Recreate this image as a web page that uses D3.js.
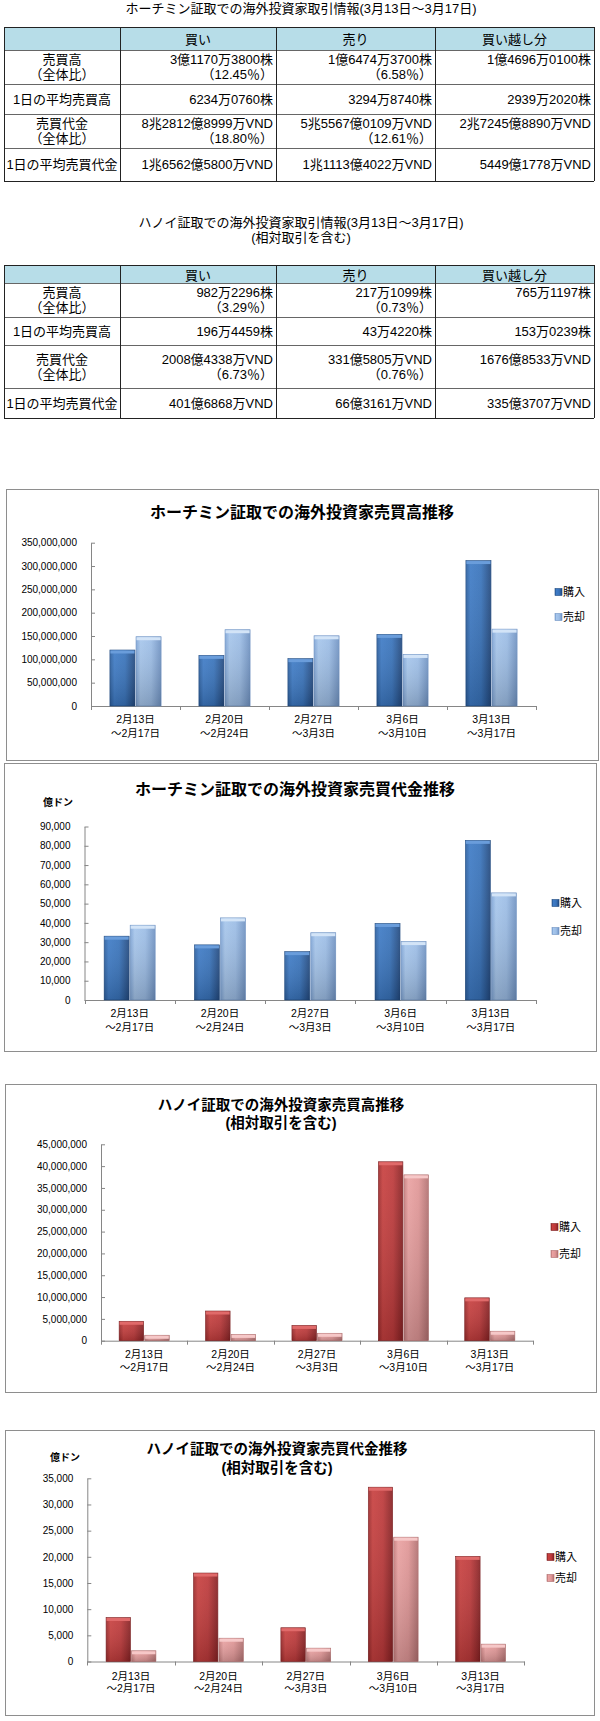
<!DOCTYPE html>
<html>
<meta charset="utf-8">
<head>
<script src="https://d3js.org/d3.v7.min.js"></script>
<style>
  body { margin: 0; background: #fff; }
  text { font-family: "Liberation Sans", "Noto Sans CJK JP", sans-serif; fill: #000; }
</style>
</head>
<body>
<script>

// ---- data ----
var colHeads = ["買い", "売り", "買い越し分"];
var rowHeads = [["売買高", "（全体比）"], ["1日の平均売買高"], ["売買代金", "（全体比）"], ["1日の平均売買代金"]];

var hcmTable = [
  [["3億1170万3800株", "（12.45％）"], ["1億6474万3700株", "（6.58％）"], ["1億4696万0100株"]],
  [["6234万0760株"], ["3294万8740株"], ["2939万2020株"]],
  [["8兆2812億8999万VND", "（18.80％）"], ["5兆5567億0109万VND", "（12.61％）"], ["2兆7245億8890万VND"]],
  [["1兆6562億5800万VND"], ["1兆1113億4022万VND"], ["5449億1778万VND"]]
];
var hnTable = [
  [["982万2296株", "（3.29％）"], ["217万1099株", "（0.73％）"], ["765万1197株"]],
  [["196万4459株"], ["43万4220株"], ["153万0239株"]],
  [["2008億4338万VND", "（6.73％）"], ["331億5805万VND", "（0.76％）"], ["1676億8533万VND"]],
  [["401億6868万VND"], ["66億3161万VND"], ["335億3707万VND"]]
];

var categories = ["2月13日～2月17日", "2月20日～2月24日", "2月27日～3月3日", "3月6日～3月10日", "3月13日～3月17日"];
var series = ["購入", "売却"];

// ホーチミン 売買高 (株)
var hcmVolBuy  = [120000000, 108500000, 101500000, 153500000, 311703800];
var hcmVolSell = [148500000, 163500000, 150500000, 110500000, 164743700];
// ホーチミン 売買代金 (億ドン)
var hcmValBuy  = [33100, 28600, 25100, 39700, 82812];
var hcmValSell = [38800, 42600, 34900, 30300, 55567];
// ハノイ 売買高 (株)
var hnVolBuy  = [4450000, 6800000, 3500000, 41000000, 9822296];
var hnVolSell = [1250000, 1450000, 1700000, 38000000, 2171099];
// ハノイ 売買代金 (億ドン)
var hnValBuy  = [8400, 16900, 6450, 33300, 20084];
var hnValSell = [2050, 4450, 2550, 23750, 3316];

var width = 600, height = 1721;

var svg = d3.select("body").append("svg")
    .attr("width", width)
    .attr("height", height);

var defs = svg.append("defs");

function hGrad(id, cols) {
  var gr = defs.append("linearGradient").attr("id", id)
      .attr("x1", "0").attr("y1", "0").attr("x2", "1").attr("y2", "0");
  [0, 0.18, 0.6, 1].forEach(function(o, i) {
    gr.append("stop").attr("offset", o).attr("stop-color", cols[i]);
  });
}
hGrad("g-bbuy",  ["#2b5f9f", "#3e7bc6", "#3873bb", "#22497f"]);
hGrad("g-bsell", ["#7ea4d6", "#a6c6ec", "#9cbde6", "#7093c3"]);
hGrad("g-rbuy",  ["#9c2a2b", "#c8403f", "#bd393a", "#872123"]);
hGrad("g-rsell", ["#c47c7c", "#eaa2a2", "#e09696", "#b27171"]);

var shade = defs.append("linearGradient").attr("id", "g-shade")
    .attr("x1", "0").attr("y1", "0").attr("x2", "0").attr("y2", "1");
shade.append("stop").attr("offset", 0).attr("stop-color", "#fff").attr("stop-opacity", 0.08);
shade.append("stop").attr("offset", 1).attr("stop-color", "#000").attr("stop-opacity", 0.18);

var palettes = {
  blue: { fill: ["url(#g-bbuy)", "url(#g-bsell)"], cap: ["#6a9ddb", "#d3e4f7"], edge: ["#1f4a80", "#6d91c2"] },
  red:  { fill: ["url(#g-rbuy)", "url(#g-rsell)"], cap: ["#e06a6a", "#f6c8c8"], edge: ["#7c1f21", "#ad6c6c"] }
};

// ---- tables ----
function drawTable(title, titleY, cols, rows, data) {
  var g = svg.append("g");
  g.selectAll(".tt").data(title).enter().append("text")
      .attr("x", 301).attr("y", function(d, i) { return titleY[i]; })
      .attr("text-anchor", "middle").attr("dominant-baseline", "central")
      .style("font-size", "13px")
      .text(function(d) { return d; });

  g.append("rect")
      .attr("x", cols[0]).attr("y", rows[0])
      .attr("width", cols[4] - cols[0]).attr("height", rows[1] - rows[0])
      .attr("fill", "#b7dde8");

  g.selectAll(".hl").data(rows).enter().append("line")
      .attr("x1", cols[0]).attr("x2", cols[4])
      .attr("y1", function(d) { return d + 0.5; }).attr("y2", function(d) { return d + 0.5; })
      .attr("stroke", function(d, i) { return (i == 0 || i == rows.length - 1) ? "#222" : "#666"; });
  g.selectAll(".vl").data(cols).enter().append("line")
      .attr("y1", rows[0]).attr("y2", rows[rows.length - 1])
      .attr("x1", function(d) { return d + 0.5; }).attr("x2", function(d) { return d + 0.5; })
      .attr("stroke", "#222");

  colHeads.forEach(function(h, c) {
    g.append("text")
        .attr("x", (cols[c + 1] + cols[c + 2]) / 2).attr("y", (rows[0] + rows[1]) / 2 + 1)
        .attr("text-anchor", "middle").attr("dominant-baseline", "central")
        .style("font-size", "13px").text(h);
  });

  var lh = 15;
  rowHeads.forEach(function(lines, r) {
    var n = lines.length;
    var cy = (rows[r + 1] + rows[r + 2]) / 2;
    var lineY = function(i) { return cy + (i - (n - 1) / 2) * lh; };
    lines.forEach(function(t, i) {
      g.append("text").attr("x", (cols[0] + cols[1]) / 2).attr("y", lineY(i))
          .attr("text-anchor", "middle").attr("dominant-baseline", "central")
          .style("font-size", "13px").text(t);
    });
    data[r].forEach(function(cell, c) {
      cell.forEach(function(t, i) {
        g.append("text").attr("x", cols[c + 2] - 3).attr("y", lineY(i))
            .attr("text-anchor", "end").attr("dominant-baseline", "central")
            .style("font-size", "13px").text(t);
      });
    });
  });
}

drawTable(["ホーチミン証取での海外投資家取引情報(3月13日～3月17日)"], [8],
    [4, 120, 276, 435, 594], [27, 50, 84, 114, 148, 181], hcmTable);
drawTable(["ハノイ証取での海外投資家取引情報(3月13日～3月17日)", "(相対取引を含む)"], [222, 237],
    [4, 120, 276, 435, 594], [265, 283, 317, 345, 388, 418], hnTable);

// ---- charts ----
function drawChart(cfg, buy, sell) {
  var g = svg.append("g");
  var pal = palettes[cfg.color];

  g.append("rect")
      .attr("x", cfg.box[0] + 0.5).attr("y", cfg.box[1] + 0.5)
      .attr("width", cfg.box[2]).attr("height", cfg.box[3])
      .attr("fill", "#fff").attr("stroke", "#8e8e8e");

  g.selectAll(".title").data(cfg.title).enter().append("text")
      .attr("x", cfg.titleX).attr("y", function(d, i) { return cfg.titleY[i]; })
      .attr("text-anchor", "middle").attr("dominant-baseline", "central")
      .style("font-size", cfg.titleSize + "px").style("font-weight", "bold")
      .text(function(d) { return d; });

  if (cfg.unit) {
    g.append("text").attr("x", cfg.unit[0]).attr("y", cfg.unit[1])
        .attr("text-anchor", "middle").attr("dominant-baseline", "central")
        .style("font-size", "10px").style("font-weight", "bold")
        .text("億ドン");
  }

  var x0 = d3.scaleBand().domain(categories).range([cfg.x0, cfg.x1]);
  var gw = x0.bandwidth() * cfg.frac;
  var x1 = d3.scaleBand().domain(series)
      .range([(x0.bandwidth() - gw) / 2, (x0.bandwidth() + gw) / 2])
      .paddingInner(0.04);
  var y = d3.scaleLinear().domain([0, cfg.yMax]).range([cfg.yBottom, cfg.yTop]);

  var yAxis = g.append("g")
      .attr("transform", "translate(" + cfg.x0 + ",0)")
      .call(d3.axisLeft(y)
          .tickValues(d3.range(0, cfg.yMax + 1, cfg.step))
          .tickSize(-4).tickSizeOuter(0).tickPadding(14)
          .tickFormat(d3.format(",")));
  yAxis.select(".domain").attr("stroke", "#868686");
  yAxis.selectAll(".tick line").attr("stroke", "#868686");
  yAxis.selectAll(".tick text")
      .style("font-family", "'Liberation Sans', Arial, sans-serif")
      .style("font-size", "10px").attr("fill", "#111");

  var xAxis = g.append("g")
      .attr("transform", "translate(0," + cfg.yBottom + ")")
      .call(d3.axisBottom(x0).tickSize(0).tickSizeOuter(0).tickFormat(""));
  xAxis.select(".domain").attr("stroke", "#868686");
  var bounds = categories.map(function(c) { return x0(c); }).concat([cfg.x1]);
  g.selectAll(".xtick").data(bounds).enter().append("line")
      .attr("x1", function(d) { return Math.round(d) + 0.5; })
      .attr("x2", function(d) { return Math.round(d) + 0.5; })
      .attr("y1", cfg.yBottom).attr("y2", cfg.yBottom + 4)
      .attr("stroke", "#868686");

  var rows = categories.map(function(c, i) { return { cat: c, vals: [buy[i], sell[i]] }; });
  var grp = g.selectAll(".grp").data(rows).enter().append("g")
      .attr("transform", function(d) { return "translate(" + x0(d.cat) + ",0)"; });

  var bar = grp.selectAll(".bar")
      .data(function(d) { return d.vals.map(function(v, k) { return { s: series[k], k: k, v: v }; }); })
      .enter().append("g");
  bar.append("rect")
      .attr("x", function(d) { return x1(d.s); })
      .attr("y", function(d) { return y(d.v); })
      .attr("width", x1.bandwidth())
      .attr("height", function(d) { return cfg.yBottom - y(d.v); })
      .attr("fill", function(d) { return pal.fill[d.k]; })
      .attr("stroke", function(d) { return pal.edge[d.k]; })
      .attr("stroke-width", 0.6);
  bar.append("rect")
      .attr("x", function(d) { return x1(d.s); })
      .attr("y", function(d) { return y(d.v); })
      .attr("width", x1.bandwidth())
      .attr("height", function(d) { return cfg.yBottom - y(d.v); })
      .attr("fill", "url(#g-shade)");
  bar.append("rect")
      .attr("x", function(d) { return x1(d.s) + 0.5; })
      .attr("y", function(d) { return y(d.v) + 0.5; })
      .attr("width", x1.bandwidth() - 1)
      .attr("height", function(d) { return Math.min(3, cfg.yBottom - y(d.v)); })
      .attr("fill", function(d) { return pal.cap[d.k]; });

  // category labels (two lines)
  var lab = g.selectAll(".lab").data(categories).enter().append("text")
      .attr("text-anchor", "middle")
      .style("font-size", "10.5px");
  lab.append("tspan")
      .attr("x", function(d) { return x0(d) + x0.bandwidth() / 2; })
      .attr("y", cfg.labY[0]).attr("dominant-baseline", "central")
      .text(function(d) { return d.split("～")[0]; });
  lab.append("tspan")
      .attr("x", function(d) { return x0(d) + x0.bandwidth() / 2; })
      .attr("y", cfg.labY[1]).attr("dominant-baseline", "central")
      .text(function(d) { return "～" + d.split("～")[1]; });

  // legend
  var leg = g.selectAll(".leg").data(series).enter().append("g")
      .attr("transform", function(d, i) { return "translate(" + cfg.legX + "," + cfg.legY[i] + ")"; });
  leg.append("rect").attr("x", 0).attr("y", -3.5).attr("width", 7).attr("height", 7)
      .attr("fill", function(d, i) { return pal.fill[i]; })
      .attr("stroke", function(d, i) { return pal.edge[i]; }).attr("stroke-width", 0.6);
  leg.append("text").attr("x", 8).attr("y", 0)
      .attr("dominant-baseline", "central")
      .style("font-size", "11px")
      .text(function(d) { return d; });
}

drawChart({
  box: [6, 489, 592, 271], title: ["ホーチミン証取での海外投資家売買高推移"], titleX: 302, titleY: [512], titleSize: 16,
  x0: 91, x1: 536, yTop: 542.7, yBottom: 706, yMax: 350000000, step: 50000000, frac: 0.575,
  labY: [719, 733], legX: 555, legY: [592, 617], color: "blue"
}, hcmVolBuy, hcmVolSell);

drawChart({
  box: [4, 763, 592, 288], title: ["ホーチミン証取での海外投資家売買代金推移"], titleX: 295, titleY: [789], titleSize: 16,
  unit: [58, 802],
  x0: 84.5, x1: 536, yTop: 826.5, yBottom: 1000, yMax: 90000, step: 10000, frac: 0.565,
  labY: [1013, 1027], legX: 552, legY: [903, 931], color: "blue"
}, hcmValBuy, hcmValSell);

drawChart({
  box: [5, 1084, 591, 308], title: ["ハノイ証取での海外投資家売買高推移", "(相対取引を含む)"], titleX: 281, titleY: [1105, 1123], titleSize: 14.5,
  x0: 101, x1: 533, yTop: 1144.3, yBottom: 1340.7, yMax: 45000000, step: 5000000, frac: 0.58,
  labY: [1354, 1367], legX: 551, legY: [1227, 1254], color: "red"
}, hnVolBuy, hnVolSell);

drawChart({
  box: [5, 1430, 589, 285], title: ["ハノイ証取での海外投資家売買代金推移", "(相対取引を含む)"], titleX: 277, titleY: [1449, 1468], titleSize: 14.5,
  unit: [65, 1457],
  x0: 87.3, x1: 524.3, yTop: 1478.3, yBottom: 1661.5, yMax: 35000, step: 5000, frac: 0.57,
  labY: [1676, 1688], legX: 547, legY: [1557, 1578], color: "red"
}, hnValBuy, hnValSell);

</script>
</body>
</html>
